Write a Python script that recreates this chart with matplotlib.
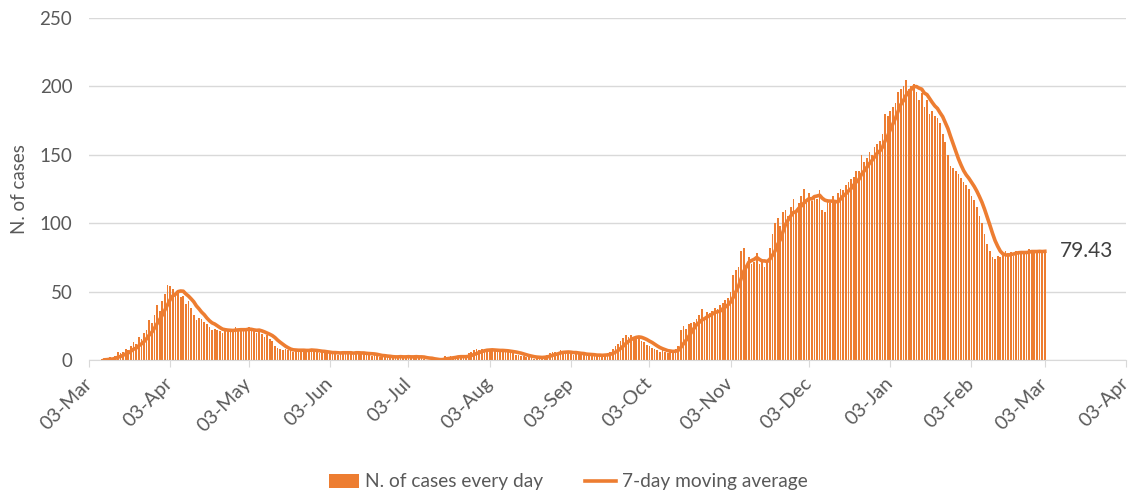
import matplotlib
matplotlib.use("Agg")
import matplotlib.pyplot as plt
import matplotlib.dates as mdates
import pandas as pd

plt.rcParams['font.family'] = ['Lato', 'DejaVu Sans']

# daily new cases, one list per month (first list starts on 03-Mar-2020)
cases_mar20 = [0, 0, 0, 0, 0, 1, 0, 1, 2, 1, 3, 6, 5, 6, 8, 7, 10, 13, 12, 17, 15,
               20, 22, 29, 27, 33, 40, 36, 43]
cases_apr20 = [48, 55, 54, 52, 48, 50, 46, 47, 41, 43, 38, 33, 29, 31, 30, 28, 26, 24,
               22, 23, 22, 21, 20, 23, 22, 21, 22, 24, 22, 21]
cases_may20 = [23, 22, 24, 21, 21, 20, 22, 19, 17, 18, 15, 14, 10, 9, 8, 7, 8, 7, 7, 6,
               8, 7, 7, 8, 6, 7, 8, 7, 6, 5, 6]
cases_jun20 = [5, 5, 6, 5, 6, 4, 5, 6, 5, 6, 5, 4, 6, 5, 5, 5, 4, 4, 3, 5, 3, 2, 2, 3,
               2, 2, 3, 2, 2, 3]
cases_jul20 = [2, 2, 3, 2, 2, 3, 2, 2, 1, 0, 0, 1, 0, 0, 0, 1, 3, 2, 3, 2, 2, 3, 2, 3,
               2, 5, 6, 7, 8, 7, 8]
cases_aug20 = [6, 8, 7, 8, 7, 6, 7, 6, 7, 6, 6, 5, 4, 4, 3, 3, 2, 2, 2, 1, 2, 2, 2, 3,
               4, 5, 6, 6, 5, 7, 6]
cases_sep20 = [5, 6, 5, 4, 5, 5, 4, 4, 3, 4, 3, 4, 3, 4, 3, 4, 5, 6, 8, 10, 12, 14, 16,
               18, 17, 18, 16, 17, 16, 14]
cases_oct20 = [13, 11, 10, 9, 8, 7, 6, 7, 6, 5, 7, 6, 8, 10, 22, 25, 23, 26, 27, 28, 30,
               33, 37, 30, 35, 34, 36, 38, 37, 40, 42]
cases_nov20 = [44, 45, 50, 62, 66, 68, 80, 82, 68, 75, 70, 72, 78, 70, 74, 68, 72, 82,
               92, 100, 104, 98, 108, 110, 105, 112, 118, 108, 115, 120]
cases_dec20 = [125, 118, 122, 116, 120, 118, 124, 110, 108, 118, 115, 120, 116, 122, 125,
               124, 128, 130, 132, 134, 138, 138, 150, 145, 148, 152, 150, 156, 158, 160, 165]
cases_jan21 = [180, 178, 182, 185, 188, 196, 198, 200, 205, 198, 200, 202, 196, 190, 195,
               185, 190, 180, 182, 178, 177, 173, 165, 159, 150, 142, 140, 138, 136, 133, 130]
cases_feb21 = [128, 125, 120, 117, 112, 105, 100, 92, 85, 80, 75, 74, 76, 75, 78, 80, 78,
               79, 76, 80, 78, 79, 80, 78, 81, 79, 80, 78]
cases_mar21 = [80, 79, 79]

start_date = '2020-03-03'
tick_start, tick_end = '2020-03-03', '2021-04-03'

cases = (cases_mar20 + cases_apr20 + cases_may20 + cases_jun20 + cases_jul20 + cases_aug20
         + cases_sep20 + cases_oct20 + cases_nov20 + cases_dec20 + cases_jan21 + cases_feb21
         + cases_mar21)
dates = pd.date_range(start_date, periods=len(cases), freq='D')
daily = pd.Series(cases, index=dates)
moving_avg = daily.rolling(7).mean()

orange = '#ED7D31'
grey_text = '#595959'
grid_col = '#D9D9D9'

fig = plt.figure(figsize=(11.32, 4.92), dpi=100)
ax = fig.add_axes([89 / 1132, 1 - 360 / 492, (1126 - 89) / 1132, (360 - 18) / 492])

bars = ax.bar(daily.index, daily.values, width=0.65, color=orange,
              label='N. of cases every day', linewidth=0, zorder=2)
line, = ax.plot(moving_avg.index, moving_avg.values, color=orange, linewidth=2.6,
                label='7-day moving average', zorder=3)

last_val = moving_avg.iloc[-1]
ax.annotate(f'{last_val:.2f}', xy=(moving_avg.index[-1], last_val), xytext=(11, 0),
            textcoords='offset points', va='center', ha='left', fontsize=15, color='#404040')

ax.set_ylim(0, 250)
ax.set_yticks(range(0, 251, 50))
ax.set_xlim(pd.Timestamp(tick_start), pd.Timestamp(tick_end))
month_ticks = [pd.Timestamp(tick_start) + pd.DateOffset(months=i) for i in range(14)]
ax.set_xticks(month_ticks)
ax.xaxis.set_major_formatter(mdates.DateFormatter('%d-%b'))

ax.grid(axis='y', color=grid_col, linewidth=1, zorder=0)
ax.set_axisbelow(True)
for side in ['top', 'right', 'left']:
    ax.spines[side].set_visible(False)
ax.spines['bottom'].set_color(grid_col)
ax.tick_params(axis='y', length=0, labelsize=13.5, labelcolor=grey_text, pad=12)
ax.tick_params(axis='x', length=5, color=grid_col, labelsize=14, labelcolor=grey_text, pad=10)
for lbl in ax.get_xticklabels():
    lbl.set_rotation(45)
    lbl.set_ha('right')
    lbl.set_va('center')
    lbl.set_rotation_mode('anchor')

ax.set_ylabel('N. of cases', fontsize=13.5, color=grey_text, labelpad=8)

fig.legend(handles=[bars, line], loc='center', bbox_to_anchor=(568 / 1132, 1 - 482 / 492),
           ncol=2, frameon=False, fontsize=13.8, labelcolor=grey_text, handlelength=1.6,
           columnspacing=2.2, handletextpad=0.3)

fig.savefig('out.png', dpi=100)
